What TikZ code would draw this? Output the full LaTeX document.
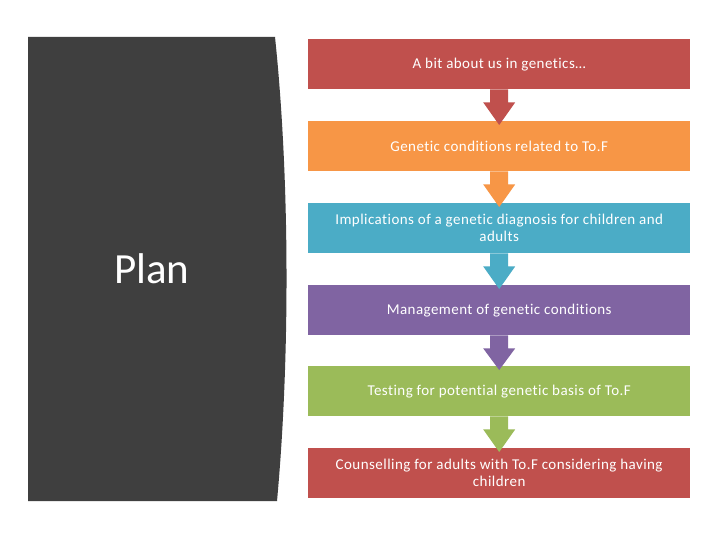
\documentclass[tikz,border=0pt]{standalone}
\usepackage{fontspec}
\setmainfont{Carlito}[Ligatures=NoCommon]
\newfontfamily\boxfamily{Carlito}[Ligatures=NoCommon,LetterSpace=3]
\definecolor{cred}{HTML}{C0504D}
\definecolor{corange}{HTML}{F79646}
\definecolor{cblue}{HTML}{4BACC6}
\definecolor{cpurple}{HTML}{8064A2}
\definecolor{cgreen}{HTML}{9BBB59}
\definecolor{cdark}{HTML}{3F3F3F}
\newcommand{\boxfnt}{\boxfamily\fontsize{15}{17}\selectfont\hyphenpenalty=10000\relax\exhyphenpenalty=10000\relax}
\begin{document}
\begin{tikzpicture}[x=1pt,y=-1pt,
  stepbox/.style={minimum width=382pt,minimum height=50pt,inner sep=2pt,
    text width=350pt,align=flush center,text=white,
    font=\boxfnt,anchor=north west}]
\useasboundingbox (0,0) rectangle (720,540);
\fill[white] (0,0) rectangle (720,540);
% dark panel
\fill[cdark] (28,37) -- (275,37) .. controls (290,180) and (290,360) .. (277,501) -- (28,501) -- cycle;
\node[anchor=base west,text=white,font=\fontsize{43}{43}\selectfont,inner sep=0pt] (plan) at (114,283) {Plan};
% boxes
\node[stepbox,fill=cred] (b1) at (308,39) {A bit about us in genetics…};
\node[stepbox,fill=corange] (b2) at (308,121) {Genetic conditions related to To.F};
\node[stepbox,fill=cblue] (b3) at (308,203) {Implications of a genetic diagnosis for children and adults};
\node[stepbox,fill=cpurple] (b4) at (308,285) {Management of genetic conditions};
\node[stepbox,fill=cgreen] (b5) at (308,366) {Testing for potential genetic basis of To.F};
\node[stepbox,fill=cred] (b6) at (308,448) {Counselling for adults with To.F considering having children};
% arrows
\foreach \a/\b/\c in {b1/b2/cred,b2/b3/corange,b3/b4/cblue,b4/b5/cpurple,b5/b6/cgreen}{
  \path (\a.south) coordinate (s) (\b.north) coordinate (e);
  \fill[\c] ([xshift=-9pt]s) -- ([xshift=9pt]s) -- ([xshift=9pt,yshift=-13pt]s) --
    ([xshift=16pt,yshift=-13pt]s) -- ([yshift=-4pt]e) -- ([xshift=-16pt,yshift=-13pt]s) --
    ([xshift=-9pt,yshift=-13pt]s) -- cycle;
}
\end{tikzpicture}
\end{document}
